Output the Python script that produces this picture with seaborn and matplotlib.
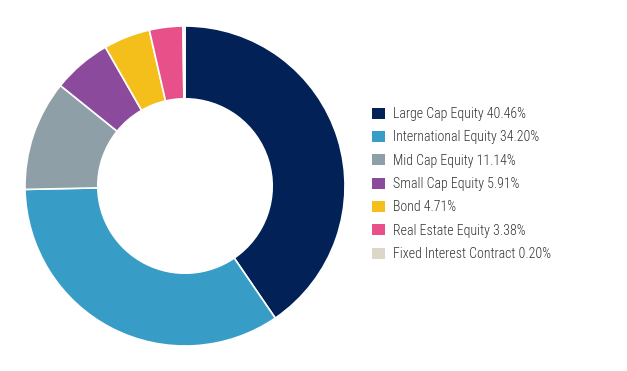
import matplotlib
matplotlib.use("Agg")
import matplotlib.pyplot as plt
from matplotlib.patches import Patch
import seaborn as sns

categories = [
    "Large Cap Equity",
    "International Equity",
    "Mid Cap Equity",
    "Small Cap Equity",
    "Bond",
    "Real Estate Equity",
    "Fixed Interest Contract",
]
weights = [40.46, 34.20, 11.14, 5.91, 4.71, 3.38, 0.20]
colors = ["#012157", "#379dc7", "#8e9fa7", "#8b4a9c", "#f5bf1b", "#e8508a", "#ddd7c8"]

sns.set_theme(style="white")
plt.rcParams["font.family"] = ["Roboto Condensed", "DejaVu Sans"]

palette = sns.color_palette(colors)

fig = plt.figure(figsize=(6.27, 3.71), dpi=100)
ax = fig.add_axes([(185 - 162) / 627, (371 - 186 - 162) / 371, 324 / 627, 324 / 371])
ax.pie(
    weights,
    colors=palette,
    startangle=90,
    counterclock=False,
    radius=1.0,
    wedgeprops=dict(width=0.455, edgecolor="white", linewidth=1.2),
)
ax.set_xlim(-1.0125, 1.0125)
ax.set_ylim(-1.0125, 1.0125)
ax.set_aspect("equal")
ax.axis("off")

handles = [Patch(facecolor=c, edgecolor="none") for c in palette]
labels = [f"{n} {v:.2f}%" for n, v in zip(categories, weights)]
leg = fig.legend(
    handles,
    labels,
    loc="center left",
    bbox_to_anchor=(372 / 627, 1 - 184 / 371),
    frameon=False,
    borderpad=0,
    borderaxespad=0,
    fontsize=10,
    handlelength=0.9,
    handleheight=0.85,
    handletextpad=0.6,
    labelspacing=0.67,
    labelcolor="#333333",
)
for t in leg.get_texts():
    t.set_fontweight("light")

fig.savefig("out.png", dpi=100)
